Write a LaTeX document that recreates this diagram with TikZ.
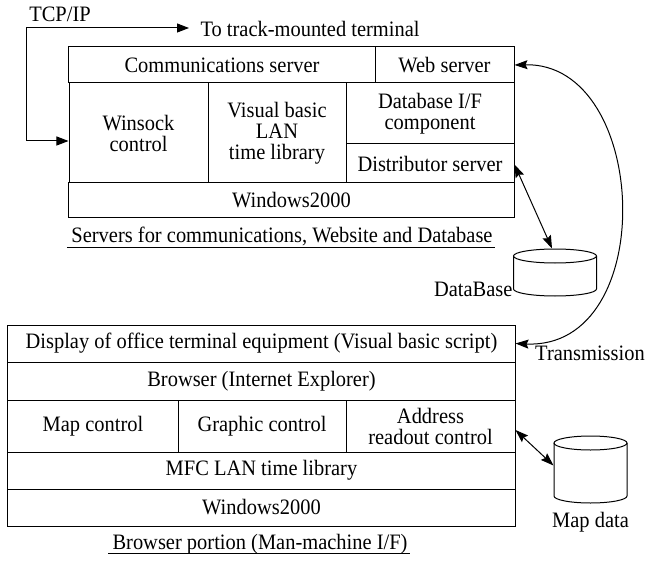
\documentclass[tikz,border=0pt]{standalone}
\usepackage{fontspec}
\setmainfont{Liberation Serif}[FakeStretch=0.93]
\usetikzlibrary{arrows.meta}
\begin{document}
\begin{tikzpicture}[x=1bp,y=-1bp, line width=1bp,
  font=\fontsize{22bp}{21bp}\selectfont,
  cell/.style 2 args={draw, inner sep=0pt, minimum width=#1bp, minimum height=#2bp, align=center},
  lbl/.style={inner sep=0pt},
  dtip/.style={arrows={Triangle[length=12bp,width=9bp]-Triangle[length=12bp,width=9bp]}},
  dbl/.style={arrows={Stealth[length=13bp,width=9bp,inset=2bp]-Stealth[length=13bp,width=9bp,inset=2bp]}},
  cyl/.style={draw=none, inner sep=0pt}]
\useasboundingbox (0,0) rectangle (647,562);

% ---------- top block ----------
\node[cell={306}{36}] (comm) at (222,65) {Communications server};
\node[cell={139}{36}] (web) at (444.5,65) {Web server};
\node[cell={139}{100}] (winsock) at (138.5,133) {Winsock\\control};
\node[cell={138}{100}] (vb) at (277,133) {Visual basic\\LAN\\time library};
\node[cell={168}{61}] (dbif) at (430,113.5) {Database I/F\\component};
\node[cell={168}{39}] (dist) at (430,163.5) {Distributor server};
\node[cell={445}{35}] (win1) at (291.5,200.5) {Windows2000};

\node[lbl, anchor=base] (cap1) at (282,243) {Servers for communications, Website and Database};
\draw ([xshift=-4bp,yshift=-4.5bp]cap1.base west) -- ([xshift=2bp,yshift=-4.5bp]cap1.base east);

% TCP/IP
\node[lbl] (tcp) at (60,14) {TCP/IP};
\node[lbl, anchor=west] (track) at (200,29) {To track-mounted terminal};
\coordinate (tcpend) at (189,28);
\coordinate (tcpcorner) at (26,28);
\draw[dtip] (tcpend) -- (tcpcorner) |- ([yshift=-8bp]winsock.west);

% DataBase cylinder
\draw (555,256) ellipse (41.5 and 7);
\draw (513.5,256) -- (513.5,289) arc[start angle=180, end angle=0, x radius=41.5, y radius=7] -- (596.5,256);
\node[cyl, minimum width=83bp, minimum height=47bp] (db) at (555,272.5) {};
\node[lbl, anchor=east] (dblbl) at (513,289) {DataBase};
\draw[dbl] ([yshift=-1bp]dist.east) -- ([xshift=-3bp]db.north);

% ---------- bottom block ----------
\node[cell={507}{37}] (disp) at (261.5,343.5) {Display of office terminal equipment (Visual basic script)};
\node[cell={507}{38}] (brow) at (261.5,381) {Browser (Internet Explorer)};
\node[cell={170}{52}] (map) at (93,426) {Map control};
\node[cell={168}{52}] (graph) at (262,426) {Graphic control};
\node[cell={169}{52}] (addr) at (430.5,426) {Address\\readout control};
\node[cell={507}{37}] (mfc) at (261.5,470.5) {MFC LAN time library};
\node[cell={507}{37}] (win2) at (261.5,507.5) {Windows2000};

\node[lbl, anchor=base] (cap2) at (260,549) {Browser portion (Man-machine I/F)};
\draw ([xshift=-4bp,yshift=-4.5bp]cap2.base west) -- ([xshift=2bp,yshift=-4.5bp]cap2.base east);

% Map data cylinder
\draw (590.5,443) ellipse (36.5 and 7);
\draw (554,443) -- (554,496) arc[start angle=180, end angle=0, x radius=36.5, y radius=7] -- (627,443);
\node[cyl, minimum width=73bp, minimum height=67bp] (mapdb) at (590.5,469.5) {};
\node[lbl] (maplbl) at (590.5,522) {Map data};
\draw[dbl] ([yshift=-4bp]addr.east) -- ([yshift=4bp]mapdb.west);

% Transmission curve
\draw[dbl] (web.east) .. controls (650,62) and (660,350) .. (disp.east);
\node[lbl] (trans) at (590,353) {Transmission};
\end{tikzpicture}
\end{document}
